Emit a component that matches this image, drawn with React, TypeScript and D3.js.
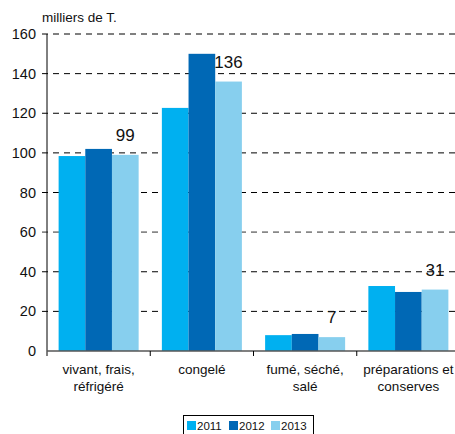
import React from "react";
import * as d3 from "d3";

const categories = [["vivant, frais,", "réfrigéré"], ["congelé"], ["fumé, séché,", "salé"], ["préparations et", "conserves"]];
const years = ["2011", "2012", "2013"];
const values2011 = [98.4, 122.7, 8.0, 32.8];
const values2012 = [102, 150, 8.6, 29.8];
const values2013 = [99, 136, 7, 31];
const labels2013 = ["99", "136", "7", "31"];
const yTicks = [0, 20, 40, 60, 80, 100, 120, 140, 160];
const colors = ["#00B0F0", "#0068B5", "#87CFEE"];

export default function App() {
  const W = 455, H = 434;
  const left = 47, right = 460, top = 34, bottom = 351;
  const y = d3.scaleLinear().domain([0, 160]).range([bottom, top]);
  const x0 = d3.scaleBand().domain(categories.map((_, i) => String(i))).range([left, right]).paddingInner(0.225).paddingOuter(0.1125);
  const x1 = d3.scaleBand().domain(years).range([0, x0.bandwidth()]);
  const series = [values2011, values2012, values2013];
  const step = (right - left) / categories.length;
  const font = "Arial, 'Liberation Sans', sans-serif";
  return (
    <svg width={W} height={H} style={{ position: "absolute", left: 0, top: 0, fontFamily: font }}>
      <rect width={W} height={H} fill="#fff" />
      {yTicks.filter(t => t > 0).map(t => (
        <line key={t} x1={42} x2={right} y1={y(t)} y2={y(t)} stroke={t === 60 ? "#888" : "#000"} strokeWidth={t === 60 ? 1.8 : 1} strokeDasharray="6,5" />
      ))}
      {yTicks.map(t => (
        <text key={t} x={36} y={y(t) + 5} textAnchor="end" fontSize={14.5} fill="#111">{t}</text>
      ))}
      <text x={42} y={22} fontSize={13.5} fill="#111">milliers de T.</text>
      {categories.map((_, i) => series.map((s, j) => (
        <rect key={i + "-" + j} x={(x0(String(i)) as number) + (x1(years[j]) as number)} y={y(s[i])} width={x1.bandwidth()} height={bottom - y(s[i])} fill={colors[j]} />
      )))}
      {categories.map((_, i) => (
        <text key={i} x={(x0(String(i)) as number) + (x1("2013") as number) + x1.bandwidth() / 2} y={y(values2013[i]) - 14} textAnchor="middle" fontSize={17} fill="#111">{labels2013[i]}</text>
      ))}
      <line x1={left} x2={left} y1={top} y2={bottom + 5} stroke="#000" strokeWidth={1} />
      <line x1={left} x2={right} y1={bottom} y2={bottom} stroke="#555" strokeOpacity={0.75} strokeWidth={2} />
      {[1, 2, 3].map(i => (
        <line key={i} x1={left + step * i} x2={left + step * i} y1={bottom} y2={bottom + 5} stroke="#000" strokeWidth={1} />
      ))}
      {categories.map((lines, i) => (
        <text key={i} textAnchor="middle" fontSize={13.5} fill="#111">
          {lines.map((l, k) => (
            <tspan key={k} x={left + step * (i + 0.5)} y={374 + k * 17}>{l}</tspan>
          ))}
        </text>
      ))}
      <rect x={183.5} y={415.5} width={130} height={22} fill="#fff" stroke="#000" strokeWidth={1} />
      {years.map((yr, j) => (
        <g key={yr} transform={`translate(${187 + j * 42},0)`}>
          <rect x={0} y={421} width={9} height={9} fill={colors[j]} />
          <text x={10} y={430} fontSize={11.5} fill="#111">{yr}</text>
        </g>
      ))}
    </svg>
  );
}
